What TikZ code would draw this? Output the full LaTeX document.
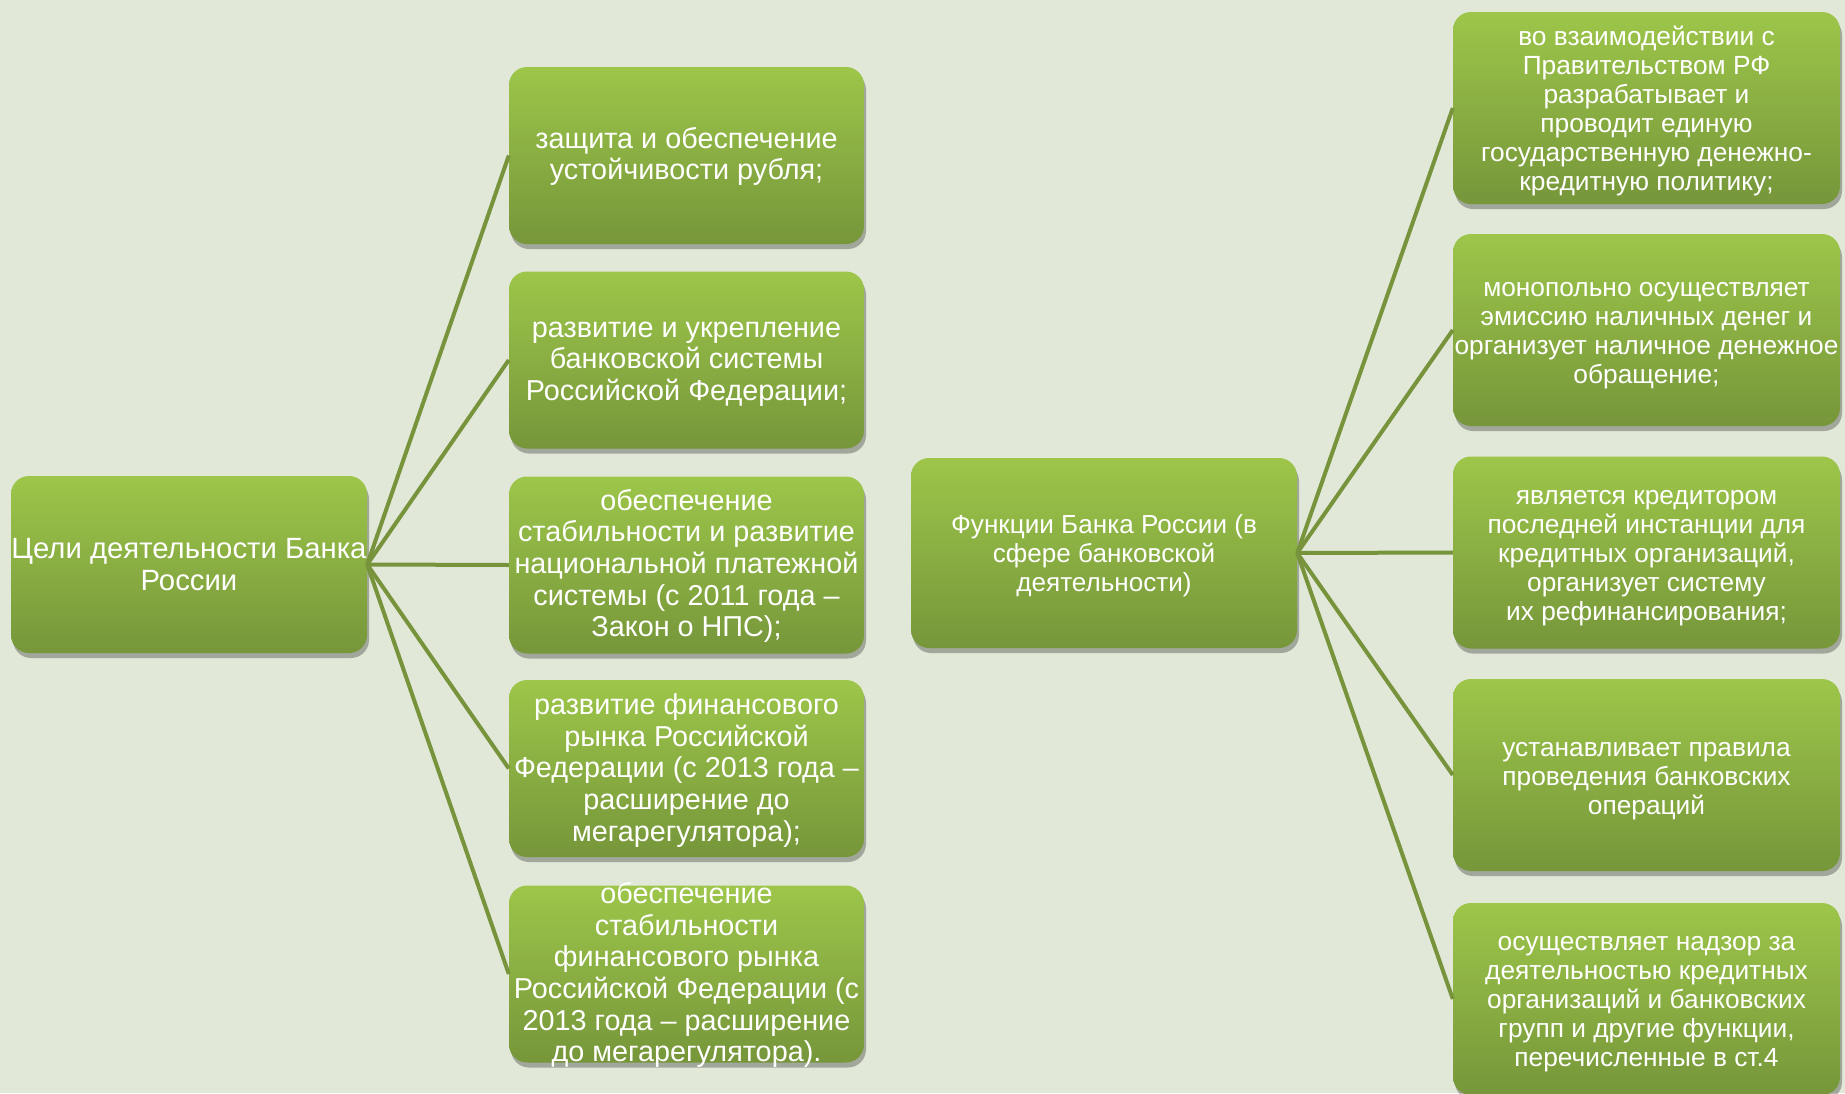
\documentclass[tikz,border=0pt]{standalone}
\usepackage{fontspec}
\setmainfont{Liberation Sans}
\usetikzlibrary{shadows}
\definecolor{bg}{HTML}{E1E8D8}
\definecolor{boxtop}{HTML}{9DC64A}
\definecolor{boxbot}{HTML}{76963A}
\definecolor{linkc}{HTML}{77933C}
\begin{document}
\begin{tikzpicture}[x=1pt,y=-1pt,
  box/.style={rounded corners=18pt, top color=boxtop, bottom color=boxbot, draw=none, inner sep=0pt,
    drop shadow={shadow xshift=2pt, shadow yshift=-5pt, opacity=0.28, fill=black}},
  goalbox/.style={box, minimum width=355pt, minimum height=177pt},
  funcbox/.style={box, minimum width=387pt, minimum height=192pt},
  txt/.style={text=white, align=center, inner sep=0pt},
  goaltxt/.style={txt, font=\fontsize{28.8}{31.7}\selectfont},
  functxt/.style={txt, font=\fontsize{26.3}{29}\selectfont},
  link/.style={draw=linkc, line width=4pt}]
\fill[bg] (0,0) rectangle (1845,1093);
\useasboundingbox (0,0) rectangle (1845,1093);

% left root
\node[box, minimum width=356pt, minimum height=177pt] (L) at (189,564.5) {};
% goals
\node[goalbox] (g1) at (686.5,155.5) {};
\node[goalbox] (g2) at (686.5,360) {};
\node[goalbox] (g3) at (686.5,565) {};
\node[goalbox] (g4) at (686.5,768.5) {};
\node[goalbox] (g5) at (686.5,974) {};
% center root
\node[box, minimum width=386pt, minimum height=190pt] (C) at (1104,553) {};
% functions
\node[funcbox] (r1) at (1646.5,108) {};
\node[funcbox] (r2) at (1646.5,330) {};
\node[funcbox] (r3) at (1646.5,552.5) {};
\node[funcbox] (r4) at (1646.5,775) {};
\node[funcbox] (r5) at (1646.5,999) {};

% connectors
\foreach \g in {g1,g2,g3,g4,g5} \draw[link] (L.east) -- (\g.west);
\foreach \r in {r1,r2,r3,r4,r5} \draw[link] (C.east) -- (\r.west);

% texts
\node[goaltxt, font=\fontsize{29.3}{32}\selectfont] (tL) at (L) {Цели деятельности Банка\\России};
\node[goaltxt] (tg1) at ([yshift=-1pt]g1.center) {защита и обеспечение\\устойчивости рубля;};
\node[goaltxt] (tg2) at ([yshift=-4pt]g2.center) {развитие и укрепление\\банковской системы\\Российской Федерации;};
\node[goaltxt] (tg3) at ([yshift=-1pt]g3.center) {обеспечение\\стабильности и развитие\\национальной платежной\\системы (с 2011 года –\\Закон о НПС);};
\node[goaltxt] (tg4) at ([yshift=-2pt]g4.center) {развитие финансового\\рынка Российской\\Федерации (с 2013 года –\\расширение до\\мегарегулятора);};
\node[goaltxt] (tg5) at ([yshift=-1pt]g5.center) {обеспечение\\стабильности\\финансового рынка\\Российской Федерации (с\\2013 года – расширение\\до мегарегулятора).};
\node[functxt, font=\fontsize{26.1}{29}\selectfont] (tC) at ([yshift=-3pt]C.center) {Функции Банка России (в\\сфере банковской\\деятельности)};
\node[functxt] (tr1) at ([yshift=-3pt]r1.center) {во взаимодействии с\\Правительством РФ\\разрабатывает и\\проводит единую\\государственную денежно-\\кредитную политику;};
\node[functxt] (tr2) at ([yshift=-6pt]r2.center) {монопольно осуществляет\\эмиссию наличных денег и\\организует наличное денежное\\обращение;};
\node[functxt] (tr3) at ([yshift=-6pt]r3.center) {является кредитором\\последней инстанции для\\кредитных организаций,\\организует систему\\их рефинансирования;};
\node[functxt] (tr4) at ([yshift=-6pt]r4.center) {устанавливает правила\\проведения банковских\\операций};
\node[functxt] (tr5) at ([yshift=-5pt]r5.center) {осуществляет надзор за\\деятельностью кредитных\\организаций и банковских\\групп и другие функции,\\перечисленные в ст.4};
\end{tikzpicture}
\end{document}
